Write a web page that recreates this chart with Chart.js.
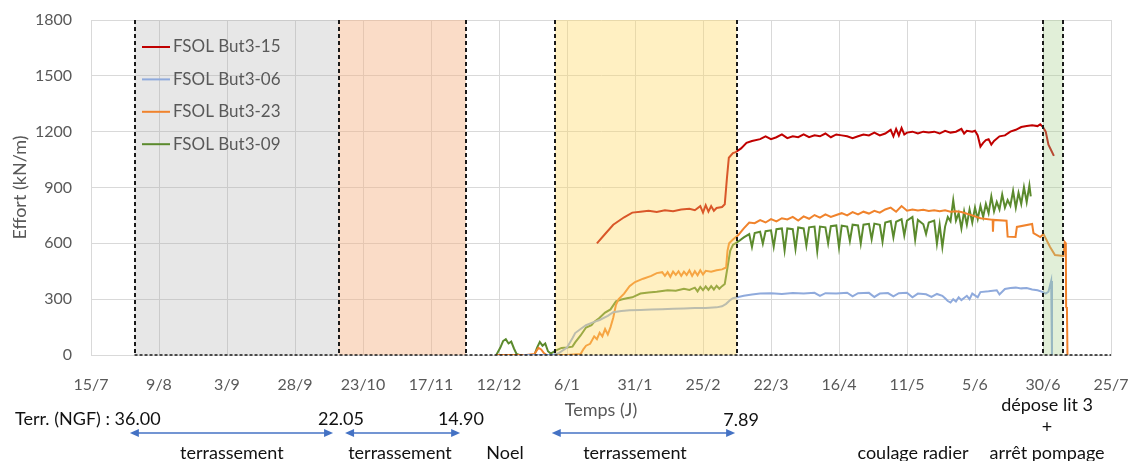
<!DOCTYPE html>
<html>
<head>
<meta charset="utf-8">
<script src="https://cdn.jsdelivr.net/npm/chart.js@4.4.0/dist/chart.umd.min.js"></script>
<style>
  html, body { margin: 0; padding: 0; background: #fff; }
  #wrap { width: 1132px; height: 461px; position: relative; }
</style>
</head>
<body>
<div id="wrap"><canvas id="graph"></canvas></div>
<script>
// jours comptes depuis le 15/7, effort en kN/m
var tickLabels = ['15/7','9/8','3/9','28/9','23/10','17/11','12/12','6/1','31/1','25/2','22/3','16/4','11/5','5/6','30/6','25/7'];

var but15 = [[186,600],[189,650],[192,700],[196,740],[199,765],[202,770],[205,775],[208,768],[211,778],[214,772],
  [217,782],[220,786],[222,778],[224,800],[225,765],[226,805],[227,770],[228,800],[229,775],[230,790],
  [232,795],[233,810],[233.8,950],[234.5,1060],[236,1085],[237,1090],[239,1110],[241,1140],[243,1150],[246,1160],
  [248,1175],[250,1160],[252,1170],[254,1185],[256,1165],[258,1175],[260,1170],[262,1185],[264,1170],[266,1180],
  [268,1175],[270,1190],[272,1170],[274,1185],[276,1180],[278,1175],[280,1165],[282,1175],[284,1185],[286,1180],
  [288,1195],[290,1180],[292,1190],[294,1210],[295,1175],[296,1215],[297,1180],[298,1220],[299,1185],[300,1195],
  [302,1200],[304,1190],[306,1200],[308,1195],[310,1200],[312,1190],[314,1205],[316,1195],[318,1200],[320,1215],
  [321,1190],[322,1205],[324,1200],[325,1205],[326,1180],[327,1120],[328,1140],[329,1155],[330,1160],[331,1130],
  [332,1150],[334,1175],[336,1180],[338,1200],[340,1210],[342,1225],[344,1230],[346,1235],[348,1230],[349,1240],
  [350,1225],[351,1200],[352,1130],[353,1100],[354,1070]];

var but06 = [[159,0],[165,0],[170,2],[172,10],[175,40],[177,90],[178,118],[180,140],[182,160],[185,178],
  [187,188],[190,210],[192,230],[195,236],[198,240],[202,242],[206,244],[210,246],[214,249],[218,250],
  [222,252],[226,253],[230,256],[232,262],[233.5,275],[235,295],[236,305],[238,312],[240,318],[243,325],
  [246,330],[250,332],[254,328],[258,333],[262,330],[266,334],[268,318],[270,332],[274,330],[278,335],
  [280,315],[282,332],[286,334],[288,312],[290,330],[293,333],[295,315],[297,332],[300,335],[302,310],
  [304,330],[307,326],[309,312],[311,328],[313,318],[314,305],[315,290],[316,282],[317,300],[318,288],
  [319,310],[320,295],[322,318],[323,300],[324,330],[326,310],[327,338],[330,342],[333,348],[334,325],
  [336,355],[338,360],[340,362],[342,358],[344,360],[346,352],[348,348],[350,338],[351,330],[352,340],
  [353,398],[353.3,0]];

var but23 = [[149,0],[160,0],[163,5],[164.5,38],[165.5,30],[166.5,10],[167.5,0],[175,0],[180,5],[181,30],
  [182,50],[183.5,60],[185,100],[186,85],[187,120],[188,100],[189,140],[190,110],[191,150],[192,200],
  [193,270],[194,300],[196,330],[198,370],[200,392],[203,410],[206,425],[208,440],[210,445],[211,425],
  [212,445],[213,420],[214,448],[215,430],[216,450],[217,425],[218,448],[219,430],[220,455],[221,425],
  [222,450],[223,428],[224,455],[225,432],[226,452],[228,448],[230,455],[232,460],[233.5,470],[234,560],
  [234.6,600],[236,620],[238,645],[240,680],[242,712],[244,708],[246,725],[248,712],[250,730],[252,718],
  [254,735],[256,728],[258,742],[260,722],[262,745],[264,732],[266,752],[268,738],[270,756],[272,742],
  [274,752],[276,762],[278,750],[280,768],[282,755],[284,770],[286,760],[288,775],[290,765],[292,782],
  [294,792],[296,770],[298,800],[300,775],[302,782],[304,776],[306,780],[308,774],[310,778],[312,772],
  [314,778],[316,770],[318,772],[320,768],[324,750],[327,735],[331.5,726],[331.6,662],[331.8,726],[336.6,722],
  [337,636],[339.9,634],[340.4,688],[346,704],[346.5,655],[349,634],[350.2,650],[352.6,580],[354.4,537],[357.5,532],
  [358,607],[358.4,600],[358.5,258],[358.8,250],[359,0]];

var but09 = [[149,0],[150.5,40],[151.5,75],[152.5,85],[153.5,62],[154.5,72],[155.5,35],[156.5,5],[157.5,0],[163,0],
  [164,40],[165,70],[166,50],[167,62],[168,20],[169,8],[171,25],[173,38],[175,40],[177,45],
  [178,68],[180,105],[182,148],[184,160],[185,178],[187,200],[189,228],[191,245],[193,288],[195,298],
  [197,305],[199,310],[202,330],[205,336],[208,340],[212,348],[215,345],[218,356],[220,350],[222,362],
  [223,342],[224,366],[225,348],[226,368],[227,350],[228,370],[229,352],[230,372],[231,356],[232,370],
  [233,382],[234,470],[235,560],[236,592],[238,610],[240,632],[242,650],[243,580],[244,655],[246,662],
  [247,598],[248,665],[250,670],[251,582],[252,676],[254,680],[255,562],[256,680],[258,676],[259,570],
  [260,685],[262,680],[263,588],[264,686],[266,690],[267,558],[268,690],[270,686],[271,600],[272,692],
  [274,696],[275,578],[276,695],[278,690],[279,612],[280,700],[282,696],[283,598],[284,700],[286,705],
  [287,622],[288,706],[290,700],[291,608],[292,712],[294,720],[295,632],[296,716],[298,730],[299,642],
  [300,722],[302,742],[303,620],[304,726],[306,702],[307,650],[308,712],[310,722],[311,598],[312,700],
  [313,580],[314,690],[315,742],[316,718],[317,832],[318,722],[319,762],[320,680],[321,772],[322,700],
  [323,782],[324,712],[325,792],[326,730],[327,802],[328,742],[329,812],[330,762],[331,852],[332,772],
  [333,822],[334,782],[335,862],[336,792],[337,832],[338,802],[339,882],[340,792],[341,872],[342,812],
  [343,902],[344,822],[345,912],[345.5,852]];

// phases du chantier (jours)
var phases = [[16,91],[91,137.8],[170.6,237.4],[350,357.5]];
var phaseFill = ['rgba(166,166,166,0.27)','rgba(244,177,131,0.45)','rgba(255,217,102,0.4)','rgba(169,208,142,0.35)'];

// texte sous le graphe : jour, texte, hauteur
var notes = [
  [91.9,'22.05',419],[136,'14.90',419],[239,'7.89',420],
  [51.8,'terrassement',453],[113.6,'terrassement',453],[152.2,'Noel',453],[200,'terrassement',453],
  [302.2,'coulage radier',453],[351.5,'dépose lit 3',405],[351.5,'+',427],[351.5,'arrêt pompage',453]
];
var arrows = [[14.3,89],[93.4,135.7],[169.4,236.8]];

function pts(arr) { return arr.map(function(p){ return {x: p[0], y: p[1]}; }); }

const phasePlugin = {
  id: 'phases',
  afterDatasetsDraw(chart) {
    const ctx = chart.ctx, a = chart.chartArea, x = chart.scales.x, y = chart.scales.y;
    const top = y.getPixelForValue(1800), bot = y.getPixelForValue(0);
    ctx.save();
    phases.forEach(function(p, i) {
      const x0 = x.getPixelForValue(p[0]), x1 = x.getPixelForValue(p[1]);
      ctx.fillStyle = phaseFill[i];
      ctx.fillRect(x0, top, x1 - x0, bot - top);
    });
    ctx.strokeStyle = '#1a1a1a';
    ctx.lineWidth = 2;
    ctx.setLineDash([4, 3]);
    phases.forEach(function(p) {
      [p[0], p[1]].forEach(function(d) {
        const px = Math.round(x.getPixelForValue(d));
        ctx.beginPath(); ctx.moveTo(px, top); ctx.lineTo(px, bot); ctx.stroke();
      });
    });
    ctx.lineWidth = 1.5;
    ctx.setLineDash([3, 2]);
    ctx.beginPath();
    ctx.moveTo(x.getPixelForValue(16), bot); ctx.lineTo(a.right, bot);
    ctx.stroke();
    ctx.restore();
  },
  afterDraw(chart) {
    const ctx = chart.ctx, a = chart.chartArea, x = chart.scales.x;
    ctx.save();
    // legende
    ctx.font = '17px Lato';
    ctx.textBaseline = 'middle';
    ctx.textAlign = 'left';
    chart.data.datasets.forEach(function(ds, i) {
      const ly = a.top + 27 + i * 32.4;
      ctx.strokeStyle = ds.borderColor;
      ctx.lineWidth = 2;
      ctx.beginPath(); ctx.moveTo(a.left + 51, ly); ctx.lineTo(a.left + 79, ly); ctx.stroke();
      ctx.fillStyle = '#595959';
      ctx.fillText(ds.label, a.left + 82, ly);
    });
    // annotations
    ctx.font = '18px Lato';
    ctx.fillStyle = '#111';
    ctx.fillText('Terr. (NGF) : 36.00', 15, 419);
    ctx.textAlign = 'center';
    notes.forEach(function(n) { ctx.fillText(n[1], x.getPixelForValue(n[0]), n[2]); });
    ctx.strokeStyle = '#4472c4';
    ctx.fillStyle = '#4472c4';
    ctx.lineWidth = 1.5;
    arrows.forEach(function(r) {
      const x0 = x.getPixelForValue(r[0]), x1 = x.getPixelForValue(r[1]), ay = 433;
      ctx.beginPath(); ctx.moveTo(x0 + 6, ay); ctx.lineTo(x1 - 6, ay); ctx.stroke();
      ctx.beginPath(); ctx.moveTo(x0, ay); ctx.lineTo(x0 + 9, ay - 4); ctx.lineTo(x0 + 9, ay + 4); ctx.fill();
      ctx.beginPath(); ctx.moveTo(x1, ay); ctx.lineTo(x1 - 9, ay - 4); ctx.lineTo(x1 - 9, ay + 4); ctx.fill();
    });
    ctx.restore();
  }
};

Chart.defaults.font.family = 'Lato';
Chart.defaults.color = '#595959';

const config = {
  type: 'line',
  data: {
    datasets: [
      { label: 'FSOL But3-15', data: pts(but15), borderColor: '#c00000' },
      { label: 'FSOL But3-06', data: pts(but06), borderColor: '#8faadc' },
      { label: 'FSOL But3-23', data: pts(but23), borderColor: '#f0832c' },
      { label: 'FSOL But3-09', data: pts(but09), borderColor: '#5b8a2d' }
    ]
  },
  options: {
    responsive: true,
    maintainAspectRatio: false,
    animation: false,
    parsing: false,
    elements: {
      point: { radius: 0 },
      line: { borderWidth: 2, tension: 0 }
    },
    layout: { padding: { left: 0, right: 21, top: 20, bottom: 0 } },
    plugins: { legend: { display: false }, tooltip: { enabled: false } },
    scales: {
      x: {
        type: 'linear',
        min: 0,
        max: 375,
        afterFit: function(s) { s.height = 106; s.paddingLeft = 0; s.paddingRight = 0; },
        grid: { color: '#d9d9d9', drawTicks: false },
        border: { color: '#d9d9d9' },
        ticks: {
          stepSize: 25,
          autoSkip: false,
          maxRotation: 0,
          padding: 20,
          font: { size: 16 },
          callback: function(v) { return tickLabels[Math.round(v / 25)]; }
        },
        title: { display: true, text: 'Temps (J)', font: { size: 18 }, padding: { top: 0, bottom: 40 } }
      },
      y: {
        min: 0,
        max: 1800,
        afterFit: function(s) { s.width = 91; s.paddingTop = 0; s.paddingBottom = 0; },
        grid: { color: '#d9d9d9', drawTicks: false },
        border: { color: '#d9d9d9' },
        ticks: { stepSize: 300, padding: 19, font: { size: 16 }, callback: function(v) { return String(v); } },
        title: { display: true, text: 'Effort (kN/m)', font: { size: 18 }, padding: { top: 9, bottom: 0 } }
      }
    }
  },
  plugins: [phasePlugin]
};

var myChart = new Chart(document.getElementById('graph'), config);
</script>
</body>
</html>
